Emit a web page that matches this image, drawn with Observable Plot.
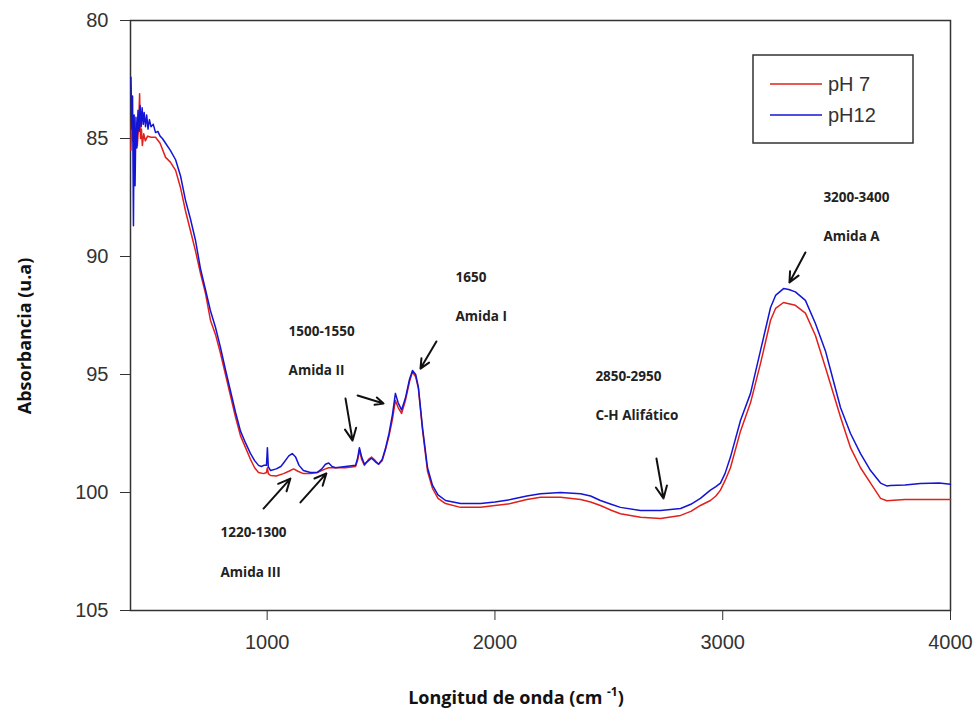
<!DOCTYPE html>
<html><head><meta charset="utf-8">
<script src="https://cdn.jsdelivr.net/npm/d3@7"></script>
<script src="https://cdn.jsdelivr.net/npm/@observablehq/plot@0.6"></script>
<style>body{margin:0;background:#fff}</style>
</head><body><div id="chart"></div>
<script>
// pH 7 (red)
const wavePH7 = [402,406,410,415,420,425,430,435,440,444,448,452,458,465,475,490,510,530,554,575,598,620,641,663,685,707,729,751,773,795,817,839,861,883,905,927,945,962,985,997,1001,1005,1015,1040,1072,1095,1116,1135,1159,1190,1220,1256,1270,1300,1344,1388,1398,1405,1415,1427,1445,1458,1475,1489,1505,1519,1535,1550,1563,1575,1590,1607,1625,1638,1652,1664,1682,1704,1726,1750,1783,1849,1937,2000,2068,2140,2200,2288,2376,2420,2463,2510,2551,2639,2727,2815,2860,2902,2946,2970,2990,3010,3034,3078,3122,3166,3210,3232,3267,3290,3319,3363,3407,3451,3473,3517,3561,3605,3649,3693,3720,3736,3800,3868,3950,4000];
const absPH7 = [85.5,83.7,85.1,84.3,85.6,84.6,85.3,84.6,83.1,85.0,84.6,85.3,84.8,85.1,84.9,84.95,84.95,85.2,85.8,86.0,86.35,87.1,88.05,88.9,89.75,90.7,91.55,92.7,93.3,94.1,95.0,95.9,96.8,97.6,98.1,98.6,98.95,99.15,99.2,99.15,98.95,99.2,99.28,99.3,99.2,99.1,99.0,99.1,99.2,99.2,99.15,99.0,98.95,98.95,98.95,98.9,98.6,98.2,98.6,98.85,98.6,98.5,98.65,98.8,98.65,98.2,97.6,96.9,96.1,96.4,96.65,96.1,95.3,94.9,95.1,95.6,97.35,99.1,99.83,100.25,100.47,100.63,100.63,100.55,100.47,100.3,100.2,100.2,100.3,100.4,100.55,100.75,100.9,101.05,101.1,100.97,100.8,100.55,100.34,100.15,99.9,99.5,98.95,97.4,96.2,94.53,92.7,92.2,91.95,92.0,92.07,92.4,93.35,94.7,95.4,96.8,98.1,98.95,99.6,100.25,100.35,100.34,100.3,100.3,100.3,100.3];

// pH 12 (blue)
const wavePH12 = [402,406,409,413,416,420,424,428,433,438,442,447,451,456,460,466,471,477,483,490,500,510,520,530,540,554,575,598,620,641,663,685,707,729,751,773,795,817,839,861,883,905,927,945,962,975,985,997,1001,1005,1015,1040,1060,1072,1095,1110,1125,1140,1159,1190,1220,1240,1256,1270,1285,1300,1344,1388,1398,1405,1415,1427,1445,1458,1475,1489,1505,1519,1535,1550,1563,1575,1590,1607,1625,1638,1652,1664,1682,1704,1726,1750,1783,1849,1937,2000,2068,2140,2200,2288,2376,2420,2463,2510,2551,2639,2727,2815,2860,2902,2946,2970,2990,3010,3034,3078,3122,3166,3210,3232,3267,3290,3319,3363,3407,3451,3473,3517,3561,3605,3649,3693,3720,3736,3800,3868,3950,4000];
const absPH12 = [82.4,84.6,83.2,88.7,84.0,87.0,84.1,85.4,83.8,84.7,83.6,84.5,83.7,84.4,83.9,84.5,84.0,84.6,84.2,84.5,84.4,84.75,84.7,84.9,85.0,85.2,85.5,85.9,86.6,87.6,88.4,89.3,90.5,91.4,92.3,93.0,93.85,94.8,95.7,96.6,97.4,97.9,98.35,98.65,98.85,98.9,98.85,98.85,98.1,98.9,99.07,99.0,98.9,98.75,98.45,98.35,98.5,98.85,99.07,99.15,99.15,99.0,98.8,98.75,98.9,98.95,98.9,98.85,98.5,98.1,98.5,98.8,98.65,98.55,98.7,98.8,98.6,98.15,97.5,96.7,95.8,96.2,96.5,96.0,95.2,94.83,95.0,95.55,97.25,98.95,99.7,100.1,100.34,100.47,100.47,100.4,100.3,100.15,100.05,100.0,100.05,100.15,100.34,100.5,100.63,100.76,100.76,100.68,100.5,100.25,99.9,99.75,99.6,99.2,98.5,96.95,95.8,93.98,92.16,91.65,91.36,91.4,91.5,91.86,92.84,94.0,94.8,96.4,97.5,98.35,99.07,99.6,99.72,99.7,99.68,99.62,99.6,99.65];

const xTicks = [1000, 2000, 3000, 4000];
const yTicks = [80, 85, 90, 95, 100, 105];

// annotations (data coordinates)
const annotLabels = ["1500-1550","Amida II","1650","Amida I","2850-2950","C-H Alifático","3200-3400","Amida A","1220-1300","Amida III"];
const annotX = [1094,1094,1827,1827,2441,2441,3442,3442,795,795];
const annotY = [93.18,94.83,90.89,92.54,95.08,96.74,87.5,89.15,101.7,103.39];

// arrows (data coordinates: tail -> head)
const arrowX1 = [3363,1743,1397,1344,984,1146,2709];
const arrowY1 = [89.83,93.60,95.89,96.02,100.68,100.42,98.56];
const arrowX2 = [3293,1673,1511,1375,1102,1260,2740];
const arrowY2 = [91.10,94.75,96.23,97.80,99.41,99.19,100.25];

const seriesNames = ["pH 7", "pH12"];
const seriesColors = ["#e0201c", "#1414d4"];

const dataPH7 = wavePH7.map((w, i) => ({w, a: absPH7[i]}));
const dataPH12 = wavePH12.map((w, i) => ({w, a: absPH12[i]}));
const annotations = annotLabels.map((t, i) => ({t, x: annotX[i], y: annotY[i]}));
const arrows = arrowX1.map((x1, i) => ({x1, y1: arrowY1[i], x2: arrowX2[i], y2: arrowY2[i]}));

const chart = Plot.plot({
  width: 977, height: 713,
  marginLeft: 130, marginRight: 27, marginTop: 20, marginBottom: 103,
  style: {fontFamily: "'Liberation Sans', Arial, sans-serif", fontSize: "20px", color: "#333", background: "#fff"},
  x: {domain: [400, 4000]},
  y: {domain: [80, 105], reverse: true},
  marks: [
    Plot.axisX({ticks: xTicks, tickSize: 10, tickPadding: 14, label: null, tickFormat: d3.format("d")}),
    Plot.axisY({ticks: yTicks, tickSize: 10, tickPadding: 12, label: null}),
    Plot.frame({stroke: "#333", strokeWidth: 1.5}),
    Plot.line(dataPH7, {x: "w", y: "a", stroke: seriesColors[0], strokeWidth: 1.5}),
    Plot.line(dataPH12, {x: "w", y: "a", stroke: seriesColors[1], strokeWidth: 1.5}),
    Plot.text(annotations, {x: "x", y: "y", text: "t", textAnchor: "start", fontWeight: "bold", fontSize: 13.5, fontFamily: "'Open Sans', sans-serif", fill: "#222"}),
    Plot.arrow(arrows, {x1: "x1", y1: "y1", x2: "x2", y2: "y2", stroke: "#111", strokeWidth: 2, headLength: 10, headAngle: 50})
  ]
});

const svg = d3.select(chart);
// axis titles
const xt = svg.append("text").attr("x", 516).attr("y", 704).attr("text-anchor", "middle")
  .style("font-family", "'Open Sans', sans-serif").style("font-weight", "bold").style("font-size", "18px").attr("fill", "#111");
xt.append("tspan").text("Longitud de onda (cm ");
xt.append("tspan").text("-1").attr("font-size", "12px").attr("dy", "-8");
xt.append("tspan").text(")").attr("dy", "8");

svg.append("text").attr("transform", "translate(31,336) rotate(-90)").attr("text-anchor", "middle")
  .style("font-family", "'Open Sans', sans-serif").style("font-weight", "bold").style("font-size", "18px").attr("fill", "#111")
  .text("Absorbancia (u.a)");

// legend
const lg = svg.append("g").attr("text-anchor", "start");
lg.append("rect").attr("x", 753).attr("y", 55).attr("width", 160).attr("height", 88)
  .attr("fill", "#fff").attr("stroke", "#333").attr("stroke-width", 1.5);
seriesNames.forEach((n, i) => {
  const yy = 84 + i * 31;
  lg.append("line").attr("x1", 770).attr("x2", 822).attr("y1", yy).attr("y2", yy)
    .attr("stroke", seriesColors[i]).attr("stroke-width", 1.5);
  lg.append("text").attr("x", 828).attr("y", yy).attr("dy", "0.35em").attr("text-anchor", "start")
    .style("font-family", "'Liberation Sans', Arial, sans-serif").style("font-size", "20px").attr("fill", "#333").text(n);
});

document.getElementById("chart").appendChild(chart);
</script>
</body></html>
